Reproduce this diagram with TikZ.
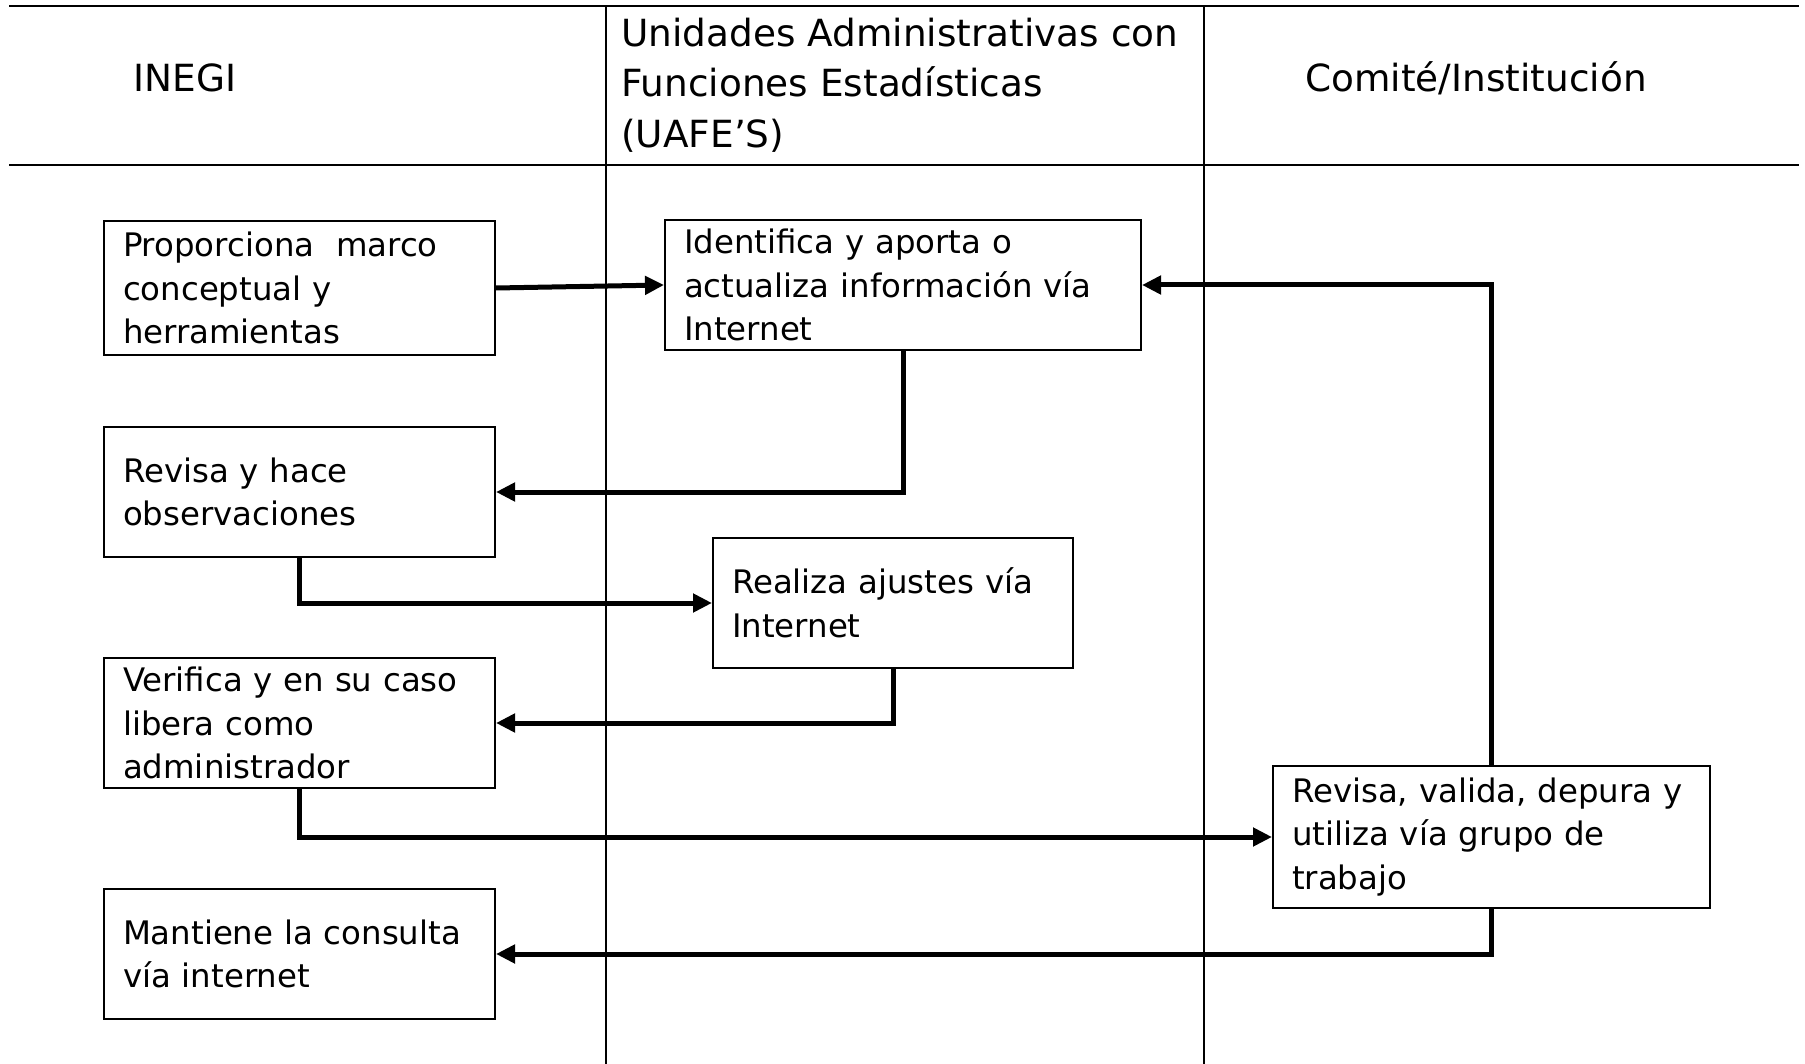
\documentclass[tikz,border=0pt]{standalone}
\usepackage{fontspec}
\setmainfont{DejaVu Sans}
\usetikzlibrary{arrows.meta}
\begin{document}
\begin{tikzpicture}[x=0.5pt,y=-0.5pt,
  lane/.style={line width=1pt,draw=black},
  proc/.style={draw=black,line width=1pt,rectangle,align=left,inner xsep=9.5pt,inner ysep=0pt,
    font=\fontsize{16.2}{21.75}\selectfont},
  head/.style={inner sep=0pt,font=\fontsize{18.7}{25.25}\selectfont},
  arr/.style={line width=2.5pt,-{Triangle[length=9.5pt,width=9pt]}}]
\useasboundingbox (0,0) rectangle (1805,1064);
\fill[white] (0,0) rectangle (1805,1064);
% swimlane grid
\draw[lane] (9,6) -- (1799,6);
\draw[lane] (9,165) -- (1799,165);
\draw[lane] (606,6) -- (606,1064);
\draw[lane] (1204,6) -- (1204,1064);
% headers
\node[head,anchor=base west] (hinegi) at (133,92) {INEGI};
\node[head,anchor=west,align=left] (huafe) at (621,85) {Unidades Administrativas con\\Funciones Estadísticas\\(UAFE’S)};
\node[head,anchor=base west] (hcomite) at (1305,92) {Comité/Institución};
% process boxes
\node[proc,minimum width=195.5pt,minimum height=67pt,text width=176.5pt] (b1) at (299.5,288)
  {Proporciona\ \ marco\\conceptual y\\herramientas};
\node[proc,minimum width=238pt,minimum height=65pt,text width=219pt] (b2) at (903,285)
  {Identifica y aporta o\\actualiza información vía\\Internet};
\node[proc,minimum width=195.5pt,minimum height=65pt,text width=176.5pt] (b3) at (299.5,492)
  {Revisa y hace\\observaciones};
\node[proc,minimum width=180pt,minimum height=65pt,text width=161pt] (b4) at (893,603)
  {Realiza ajustes vía\\Internet};
\node[proc,minimum width=195.5pt,minimum height=65pt,text width=176.5pt] (b5) at (299.5,723)
  {Verifica y en su caso\\libera como\\administrador};
\node[proc,minimum width=218.5pt,minimum height=71pt,text width=199.5pt] (b6) at (1491.5,837)
  {Revisa, valida, depura y\\utiliza vía grupo de\\trabajo};
\node[proc,minimum width=195.5pt,minimum height=65pt,text width=176.5pt] (b7) at (299.5,954)
  {Mantiene la consulta\\vía internet};
% connectors
\draw[arr] (b1.east) -- (b2.west);
\draw[arr] (b2.south) |- (b3.east);
\draw[arr] (b3.south) |- (b4.west);
\draw[arr] (b4.south) |- (b5.east);
\draw[arr] (b5.south) |- (b6.west);
\draw[arr] (b6.north) |- (b2.east);
\draw[arr] (b6.south) |- (b7.east);
\end{tikzpicture}
\end{document}
